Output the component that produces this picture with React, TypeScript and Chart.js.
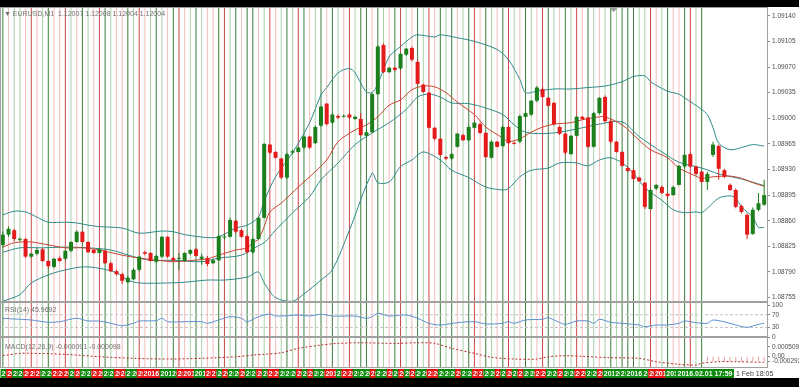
import React, { useEffect, useRef } from 'react';
import { Chart, registerables } from 'chart.js';

Chart.register(...registerables);

// ---------- DATA ----------
const opens = [
  1.08827,1.08841,1.08847,1.08834,1.08835,1.08811,1.08815,1.08821,1.08805,1.08797,
  1.08809,1.08808,1.08819,1.08831,1.08845,1.08831,1.08820,1.08816,1.08819,1.08802,
  1.08791,1.08787,1.08776,1.08780,1.08793,1.08817,1.08816,1.08804,1.08811,1.08838,
  1.08809,1.08808,1.08805,1.08815,1.08821,1.08808,1.08809,1.08802,1.08806,1.08837,
  1.08838,1.08860,1.08847,1.08839,1.08817,1.08835,1.08864,1.08964,1.08954,1.08945,
  1.08919,1.08953,1.08954,1.08960,1.08975,1.08966,1.08990,1.09020,1.08994,1.09003,
  1.09002,1.09005,1.08999,1.08999,1.08976,1.08981,1.09033,1.09100,1.09063,1.09069,
  1.09068,1.09087,1.09096,1.09077,1.09046,1.09035,1.08987,1.08972,1.08947,1.08945,
  1.08961,1.08977,1.08970,1.08987,1.08992,1.08980,1.08946,1.08968,1.08962,1.08988,
  1.08966,1.08968,1.09002,1.09005,1.09024,1.09040,1.09028,1.09021,1.08988,1.08979,
  1.08951,1.08976,1.09002,1.09001,1.08961,1.09007,1.09029,1.08996,1.08968,1.08954,
  1.08932,1.08929,1.08919,1.08912,1.08876,1.08904,1.08906,1.08897,1.08895,1.08909,
  1.08934,1.08951,1.08934,1.08927,1.08913,1.08950,1.08962,1.08929,1.08909,1.08902,
  1.08880,1.08868,1.08842,1.08875,1.08882,
];
const highs = [
  1.08845,1.08852,1.08849,1.08837,1.08837,1.08816,1.08823,1.08823,1.08806,1.08809,
  1.08811,1.08820,1.08832,1.08847,1.08846,1.08832,1.08821,1.08823,1.08820,1.08804,
  1.08793,1.08789,1.08785,1.08795,1.08812,1.08819,1.08817,1.08813,1.08839,1.08839,
  1.08811,1.08816,1.08817,1.08821,1.08823,1.08815,1.08812,1.08808,1.08841,1.08842,
  1.08864,1.08861,1.08849,1.08841,1.08837,1.08866,1.08966,1.08965,1.08955,1.08946,
  1.08953,1.08957,1.08961,1.08976,1.08976,1.08990,1.09017,1.09021,1.09007,1.09005,
  1.09005,1.09007,1.09003,1.09007,1.08984,1.09035,1.09100,1.09102,1.09070,1.09070,
  1.09090,1.09096,1.09098,1.09080,1.09047,1.09036,1.08988,1.08973,1.08948,1.08953,
  1.08980,1.08979,1.08990,1.08996,1.08994,1.08981,1.08970,1.08969,1.08990,1.08990,
  1.08968,1.09005,1.09009,1.09025,1.09044,1.09042,1.09029,1.09022,1.08990,1.08980,
  1.08977,1.09003,1.09003,1.09002,1.09009,1.09029,1.09031,1.08998,1.08969,1.08955,
  1.08934,1.08931,1.08920,1.08913,1.08904,1.08910,1.08908,1.08898,1.08908,1.08936,
  1.08951,1.08953,1.08935,1.08928,1.08927,1.08968,1.08964,1.08931,1.08911,1.08904,
  1.08882,1.08870,1.08878,1.08898,1.08916,
];
const lows = [
  1.08824,1.08838,1.08832,1.08832,1.08809,1.08809,1.08813,1.08804,1.08795,1.08795,
  1.08804,1.08806,1.08817,1.08830,1.08830,1.08816,1.08815,1.08815,1.08801,1.08790,
  1.08785,1.08774,1.08775,1.08779,1.08791,1.08813,1.08804,1.08802,1.08809,1.08809,
  1.08805,1.08793,1.08804,1.08813,1.08811,1.08800,1.08798,1.08801,1.08805,1.08834,
  1.08837,1.08843,1.08837,1.08816,1.08815,1.08834,1.08863,1.08951,1.08945,1.08917,
  1.08917,1.08951,1.08953,1.08958,1.08958,1.08965,1.08988,1.08990,1.08992,1.08999,
  1.09001,1.08999,1.08998,1.08976,1.08975,1.08980,1.09032,1.09062,1.09062,1.09065,
  1.09066,1.09085,1.09078,1.09046,1.09035,1.08986,1.08970,1.08948,1.08943,1.08943,
  1.08960,1.08969,1.08969,1.08986,1.08979,1.08946,1.08945,1.08960,1.08961,1.08965,
  1.08964,1.08966,1.09001,1.09003,1.09022,1.09028,1.09016,1.08990,1.08977,1.08950,
  1.08950,1.08975,1.08998,1.08960,1.08960,1.09005,1.08994,1.08966,1.08953,1.08934,
  1.08927,1.08916,1.08913,1.08876,1.08875,1.08902,1.08897,1.08891,1.08894,1.08908,
  1.08932,1.08932,1.08923,1.08912,1.08902,1.08947,1.08916,1.08918,1.08901,1.08877,
  1.08870,1.08835,1.08841,1.08873,1.08880,
];
const closes = [
  1.08841,1.08849,1.08835,1.08835,1.08811,1.08815,1.08820,1.08805,1.08798,1.08808,
  1.08805,1.08819,1.08831,1.08845,1.08831,1.08817,1.08816,1.08821,1.08802,1.08791,
  1.08787,1.08778,1.08782,1.08793,1.08811,1.08815,1.08805,1.08812,1.08838,1.08811,
  1.08806,1.08809,1.08816,1.08820,1.08812,1.08811,1.08801,1.08806,1.08839,1.08838,
  1.08861,1.08845,1.08838,1.08817,1.08835,1.08864,1.08965,1.08953,1.08946,1.08919,
  1.08951,1.08955,1.08960,1.08975,1.08960,1.08988,1.09016,1.08992,1.09005,1.09001,
  1.09003,1.09001,1.09002,1.08977,1.08981,1.09033,1.09098,1.09063,1.09069,1.09066,
  1.09088,1.09095,1.09080,1.09047,1.09036,1.08987,1.08972,1.08950,1.08945,1.08951,
  1.08979,1.08970,1.08988,1.08994,1.08980,1.08947,1.08968,1.08961,1.08988,1.08966,
  1.08965,1.09003,1.09007,1.09024,1.09042,1.09029,1.09017,1.08992,1.08979,1.08953,
  1.08976,1.09002,1.08999,1.08961,1.09007,1.09028,1.08996,1.08968,1.08954,1.08935,
  1.08928,1.08917,1.08914,1.08879,1.08902,1.08909,1.08898,1.08894,1.08906,1.08935,
  1.08950,1.08934,1.08924,1.08913,1.08924,1.08964,1.08931,1.08920,1.08902,1.08879,
  1.08872,1.08841,1.08875,1.08884,1.08895,
];

// Bollinger bands / moving average, [bar index, price]
const bbUpper = [
  [0,1.08868],[2,1.08873],[4,1.08872],[6,1.08865],[8,1.08858],[11,1.08858],[13,1.08857],[15,1.08854],
  [17,1.08852],[21,1.0885],[24,1.08843],[28,1.08846],[30,1.08845],[32,1.08841],[36,1.08837],[38,1.08838],
  [41,1.0885],[43,1.08854],[45,1.08865],[46,1.08887],[48,1.0892],[51,1.08953],[54,1.08994],[56,1.09032],
  [57,1.09042],[59,1.09062],[61,1.09068],[62,1.09062],[63,1.09048],[64,1.09036],[65,1.09035],[66,1.09047],
  [68,1.09084],[70,1.09098],[72,1.09111],[73,1.09114],[76,1.09111],[77,1.09114],[80,1.0911],[83,1.09105],
  [87,1.09094],[89,1.0908],[91,1.09053],[92,1.09035],[94,1.09037],[97,1.0904],[100,1.0904],[103,1.09042],
  [106,1.09044],[109,1.0905],[111,1.09057],[113,1.09058],[114,1.0905],[117,1.09037],[119,1.09033],
  [120,1.09028],[123,1.09012],[124,1.09005],[125,1.08987],[126,1.08966],[128,1.08957],[130,1.0896],
  [132,1.08964],[134,1.08962],
];
const bbMiddle = [
  [0,1.08817],[3,1.08823],[7,1.08823],[11,1.08824],[15,1.08823],[19,1.0882],[23,1.08811],[26,1.08806],
  [30,1.08806],[35,1.08804],[38,1.08809],[42,1.08813],[45,1.08826],[46,1.0883],[48,1.08847],[51,1.08871],
  [54,1.08893],[56,1.08916],[59,1.08939],[62,1.08964],[65,1.0898],[68,1.08994],[71,1.09012],[73,1.09029],
  [75,1.09033],[77,1.09029],[79,1.09021],[82,1.0902],[85,1.09014],[88,1.09005],[90,1.08991],[92,1.08981],
  [95,1.08979],[98,1.08981],[102,1.08987],[105,1.08992],[109,1.08995],[112,1.08975],[116,1.08954],
  [119,1.0894],[123,1.08932],[126,1.08924],[130,1.08917],[134,1.08908],
];
const bbLower = [
  [0,1.0875],[3,1.08759],[5,1.08775],[8,1.08786],[10,1.08791],[14,1.08797],[17,1.08795],[20,1.08789],
  [22,1.08779],[24,1.08775],[29,1.08775],[32,1.08776],[36,1.08779],[39,1.08779],[43,1.08783],[45,1.0879],
  [46,1.08775],[48,1.08755],[51,1.0875],[53,1.0876],[56,1.08779],[58,1.08793],[61,1.08847],[65,1.08925],
  [66,1.08912],[68,1.08913],[70,1.08934],[72,1.08943],[74,1.08954],[77,1.08943],[79,1.08929],[82,1.08919],
  [85,1.08906],[88,1.08902],[89,1.08904],[91,1.0892],[93,1.08929],[96,1.08932],[98,1.08939],[101,1.08939],
  [103,1.08935],[105,1.08943],[107,1.08946],[109,1.08939],[111,1.08925],[113,1.08905],[116,1.08888],
  [118,1.08875],[120,1.08871],[122,1.08872],[123,1.08871],[124,1.08877],[126,1.08891],[128,1.08894],
  [129,1.08891],[130,1.08879],[132,1.08865],[133,1.08851],[134,1.08851],
];
const fastMA = [
  [0,1.08824],[2,1.0883],[5,1.08831],[8,1.08827],[11,1.08823],[14,1.08823],[17,1.0882],[21,1.08813],
  [24,1.08809],[26,1.08807],[30,1.08804],[32,1.08805],[36,1.08808],[38,1.08813],[41,1.0882],[43,1.08823],
  [44,1.0883],[45,1.08835],[46,1.08852],[47,1.08872],[49,1.08884],[52,1.08906],[54,1.0892],[57,1.08943],
  [59,1.08968],[62,1.08984],[64,1.08991],[66,1.09002],[68,1.09018],[70,1.09025],[72,1.09039],[74,1.09044],
  [76,1.09043],[78,1.09035],[80,1.09022],[83,1.09005],[85,1.08988],[88,1.08973],[89,1.08968],[91,1.08972],
  [93,1.08981],[95,1.08988],[97,1.08992],[100,1.08994],[102,1.08998],[105,1.09002],[106,1.09002],
  [109,1.08991],[112,1.0897],[114,1.08957],[117,1.08946],[119,1.08932],[122,1.08921],[123,1.08918],
  [125,1.0892],[128,1.08921],[130,1.08918],[132,1.08912],[134,1.08907],
];

// RSI(14), [bar index, value]
const rsiValues = [
  [0,58.8],[2,56.6],[5,53.5],[8,46.2],[10,48.1],[13,58.8],[15,50.3],[17,50.3],[19,43.1],[21,35.5],
  [23,43.1],[24,50.3],[27,51.3],[28,58.8],[29,48.1],[32,48.1],[35,48.1],[36,43.1],[38,53.5],[40,63.8],
  [42,58.8],[43,48.1],[45,63.8],[47,72.3],[48,66],[50,67],[52,69.2],[54,66],[56,71.4],[58,66],[61,66],
  [62,66],[64,58.8],[65,63.8],[66,74.5],[68,66],[71,69.2],[73,58.8],[75,43.1],[77,37.7],[80,45],[83,48.1],
  [85,40.9],[88,43.1],[89,48.1],[90,43.1],[92,53.5],[95,55.7],[96,60.7],[97,53.5],[99,40],[101,50.3],
  [103,50.3],[104,43.1],[105,55.7],[107,46.2],[109,43.1],[112,37.7],[113,32.4],[115,37.7],[117,37.7],
  [119,43.1],[120,50.3],[122,45],[124,43.1],[125,53.5],[128,43.1],[129,37.7],[131,30.5],[133,39.9],
  [134,43.1],
];
const rsiLevels = [70, 30];

// MACD(12,26,9) signal, [bar index, value]
const macdSignal = [
  [0,0.000027],[3,0.000155],[5,0.000155],[11,0.000101],[17,-0.000027],[23,-0.000112],[29,-0.00015],
  [35,-0.000112],[41,-0.000027],[44,0.000064],[46,0.000101],[49,0.000187],[52,0.000422],[56,0.000598],
  [59,0.000689],[63,0.000721],[69,0.000689],[73,0.000721],[76,0.000689],[79,0.000422],[83,0.000155],
  [86,-0.000059],[90,-0.00015],[94,-0.00015],[96,-0.000027],[99,0.000027],[102,-0.000005],[107,-0.00008],
  [112,-0.000112],[115,-0.000294],[119,-0.000433],[122,-0.00047],[123,-0.000379],[126,-0.000294],
  [129,-0.000294],[134,-0.000326],
];
// MACD histogram, visible on the last bars
const macdHistIdx = [124,125,126,127,128,129,130,131,132,133,134];
const macdHistVal = [-0.00026,-0.00028,-0.00027,-0.00029,-0.00028,-0.0003,-0.00029,-0.00031,-0.0003,-0.00028,-0.00027];

// per-bar marker lines: G dark green, g light green, R dark red, r light red
const lineCodes =
  'GrggrRrgGr' + 'rRgrGgrRGg' + 'rrGgRrgGgr' + 'GRrgGgrrGR' + 'gGrGGrgRrg' +
  'GgRGrgGrGg' + 'rRgGGrGgrG' + 'RgrGgRrGgG' + 'rgGRrGgrGR' + 'grGgrRGgrG' +
  'gRrGg' + 'rgGgGGGggRrgGrrGRgG';
const stripSkip = [26, 27, 29, 33, 35, 58, 107, 111, 112, 116, 118];
const stripLastIndex = 118;
const stripText = '2016.02.01';
const lastBarLabel = '2016.02.01 17:59';
const timeLabel = '1 Feb 18:05';

const priceTicks = [1.08755,1.0879,1.08825,1.0886,1.08895,1.0893,1.08965,1.09,1.09035,1.0907,1.09105,1.0914];
const rsiTicks = [100, 70, 30, 0];
const macdTicks = [0.000509, 0, -0.000292];

const mainTitle = '\u25BC EURUSD,M1  1.12007 1.12008 1.12004 1.12004';
const rsiTitle = 'RSI(14) 45.9692';
const macdTitle = 'MACD(12,26,9) -0.000091 -0.000098';

// ---------- STYLE ----------
const UP = '#1c7f1c';
const DOWN = '#e31b1b';
const LINE_COL: Record<string, string> = { G: '#3c7d3c', g: '#a7d1a7', R: '#c94545', r: '#f4bcbc' };
const STRIP_GREEN = '#0b8a0b';
const STRIP_RED = '#e41212';
const TEAL = '#2e8a8a';
const MA_RED = '#c8412f';
const FONT = '"Liberation Sans", Arial, sans-serif';

const MAIN_MIN = 1.08749, MAIN_MAX = 1.09152;
const RSI_MIN = 0, RSI_MAX = 110;
const MACD_MIN = -0.00063, MACD_MAX = 0.00103;

const pts = (arr: number[][]) => arr.map(([x, y]) => ({ x, y }));

export default function App() {
  const ref = useRef<HTMLCanvasElement>(null);

  useEffect(() => {
    document.body.style.margin = '0';
    document.body.style.background = '#000';
    const canvas = ref.current!;
    const n = opens.length;
    const idx = opens.map((_, i) => i);
    const candleCol = idx.map((i) => (closes[i] >= opens[i] ? UP : DOWN));
    const codes = lineCodes.split('');
    const lineCols = codes.map((c) => LINE_COL[c]);

    const barBase = { type: 'bar' as const, grouped: false, borderWidth: 0, inflateAmount: 0, borderSkipped: false };
    const lineBase = { type: 'line' as const, borderWidth: 1, pointRadius: 0, fill: false, tension: 0.3 };

    const vlines = (axis: string, lo: number, hi: number) => ({
      ...barBase,
      yAxisID: axis,
      order: 20,
      barThickness: 1,
      backgroundColor: lineCols,
      data: codes.map((_, i) => ({ x: i, y: [lo, hi] })),
    });

    const yAxis = (weight: number, min: number, max: number, ticks: number[], fmt: (v: number) => string) => ({
      type: 'linear',
      axis: 'y',
      position: 'right',
      stack: 'panes',
      stackWeight: weight,
      min,
      max,
      offset: false,
      border: { display: false },
      grid: { display: true, drawOnChartArea: false, drawTicks: true, tickLength: 3, color: '#8c8c8c' },
      ticks: {
        autoSkip: false,
        padding: 2,
        color: '#4a4a4a',
        font: { family: FONT, size: 6.5 },
        callback: (v: any) => fmt(Number(v)),
      },
      afterBuildTicks: (s: any) => {
        s.ticks = ticks.map((v) => ({ value: v }));
      },
      afterFit: (s: any) => {
        s.width = 32;
        s.paddingTop = 0;
        s.paddingBottom = 0;
      },
    });

    const overlay = {
      id: 'mt4overlay',
      afterDatasetsDraw(chart: any) {
        const ctx = chart.ctx;
        const { left, right } = chart.chartArea;
        ctx.save();
        ctx.strokeStyle = '#a0a0a0';
        ctx.lineWidth = 1;
        ['y', 'rsi', 'macd'].forEach((id) => {
          const s = chart.scales[id];
          const t = Math.round(s.top);
          const b = Math.round(s.bottom);
          ctx.strokeRect(left + 0.5, t + 0.5, right - left, b - t - 1);
        });
        ctx.restore();
      },
      afterDraw(chart: any) {
        const ctx = chart.ctx;
        const sx = chart.scales.x;
        ctx.save();
        // pane captions
        ctx.fillStyle = '#707070';
        ctx.font = `7px ${FONT}`;
        ctx.textBaseline = 'middle';
        ctx.textAlign = 'left';
        ctx.fillText(mainTitle, 4, chart.scales.y.top + 7);
        ctx.fillText(rsiTitle, 5, chart.scales.rsi.top + 8.5);
        ctx.fillText(macdTitle, 5, chart.scales.macd.top + 9.7);
        // shift marker
        ctx.fillStyle = '#9a9a9a';
        ctx.beginPath();
        const mx = sx.getPixelForValue(107.5);
        ctx.moveTo(mx - 4, 1);
        ctx.lineTo(mx + 4, 1);
        ctx.lineTo(mx, 5);
        ctx.closePath();
        ctx.fill();
        // bottom strip
        const top = sx.top + 1;
        const h = 9;
        ctx.font = `bold 7px ${FONT}`;
        const tw = ctx.measureText(stripText).width;
        for (let i = 0; i <= stripLastIndex; i++) {
          if (stripSkip.includes(i)) continue;
          const c = codes[i];
          const x0 = sx.getPixelForValue(i) - 2.3;
          ctx.fillStyle = c === 'G' || c === 'g' ? STRIP_GREEN : STRIP_RED;
          ctx.fillRect(x0, top, tw + 3, h);
          ctx.fillStyle = '#ffffff';
          ctx.fillText(stripText, x0 + 1, top + h / 2 + 0.5);
        }
        const lx = sx.getPixelForValue(stripLastIndex) + 2.8;
        const lw = ctx.measureText(lastBarLabel).width;
        ctx.fillStyle = STRIP_GREEN;
        ctx.fillRect(lx, top, lw + 3, h);
        ctx.fillStyle = '#ffffff';
        ctx.fillText(lastBarLabel, lx + 1.5, top + h / 2 + 0.5);
        ctx.font = `7px ${FONT}`;
        ctx.fillStyle = '#404040';
        ctx.fillText(timeLabel, lx + lw + 5, top + h / 2 + 0.5);
        ctx.restore();
      },
    };

    const chart = new Chart(canvas, {
      type: 'bar',
      data: {
        datasets: [
          vlines('y', MAIN_MIN, MAIN_MAX),
          vlines('rsi', RSI_MIN, RSI_MAX),
          vlines('macd', MACD_MIN, MACD_MAX),
          ...rsiLevels.map((lv) => ({
            ...lineBase,
            yAxisID: 'rsi',
            order: 15,
            tension: 0,
            borderColor: '#c4c4c4',
            borderDash: [3, 2],
            data: [{ x: -0.5, y: lv }, { x: n - 0.5, y: lv }],
          })),
          { ...lineBase, yAxisID: 'rsi', order: 5, borderColor: '#5b8fd0', data: pts(rsiValues) },
          {
            ...barBase,
            yAxisID: 'macd',
            order: 12,
            barThickness: 1,
            backgroundColor: '#e6a3a3',
            data: macdHistIdx.map((x, k) => ({ x, y: [0, macdHistVal[k]] })),
          },
          { ...lineBase, yAxisID: 'macd', order: 5, borderColor: '#b52a2a', borderDash: [2, 2], data: pts(macdSignal) },
          { ...lineBase, yAxisID: 'y', order: 8, borderColor: TEAL, data: pts(bbUpper) },
          { ...lineBase, yAxisID: 'y', order: 8, borderColor: TEAL, data: pts(bbMiddle) },
          { ...lineBase, yAxisID: 'y', order: 8, borderColor: TEAL, data: pts(bbLower) },
          { ...lineBase, yAxisID: 'y', order: 7, borderColor: MA_RED, data: pts(fastMA) },
          {
            ...barBase,
            yAxisID: 'y',
            order: 3,
            barThickness: 1,
            backgroundColor: candleCol,
            data: idx.map((i) => ({ x: i, y: [lows[i], highs[i]] })),
          },
          {
            ...barBase,
            yAxisID: 'y',
            order: 2,
            barThickness: 4,
            minBarLength: 1,
            backgroundColor: candleCol,
            data: idx.map((i) => ({ x: i, y: [opens[i], closes[i]] })),
          },
        ] as any,
      },
      options: {
        responsive: false,
        maintainAspectRatio: false,
        animation: false,
        devicePixelRatio: 1,
        events: [],
        layout: { padding: 0 },
        plugins: { legend: { display: false }, tooltip: { enabled: false } },
        scales: {
          x: {
            type: 'linear',
            min: -0.5,
            max: n - 0.5,
            offset: false,
            border: { display: false },
            grid: { display: false, drawTicks: false },
            ticks: { display: false },
            afterFit: (s: any) => {
              s.height = 10;
              s.paddingLeft = 0;
              s.paddingRight = 0;
            },
          },
          y: yAxis(295, MAIN_MIN, MAIN_MAX, priceTicks, (v) => v.toFixed(5)),
          rsi: yAxis(35, RSI_MIN, RSI_MAX, rsiTicks, (v) => String(v)),
          macd: yAxis(31, MACD_MIN, MACD_MAX, macdTicks, (v) => (v === 0 ? '0.00' : v.toFixed(6))),
        } as any,
      },
      plugins: [overlay],
    });
    return () => chart.destroy();
  }, []);

  return (
    <div style={{ position: 'relative', width: 799, height: 387, background: '#000', overflow: 'hidden' }}>
      <canvas
        ref={ref}
        width={799}
        height={371}
        style={{ position: 'absolute', left: 0, top: 7, width: 799, height: 371, background: '#ffffff' }}
      />
    </div>
  );
}
